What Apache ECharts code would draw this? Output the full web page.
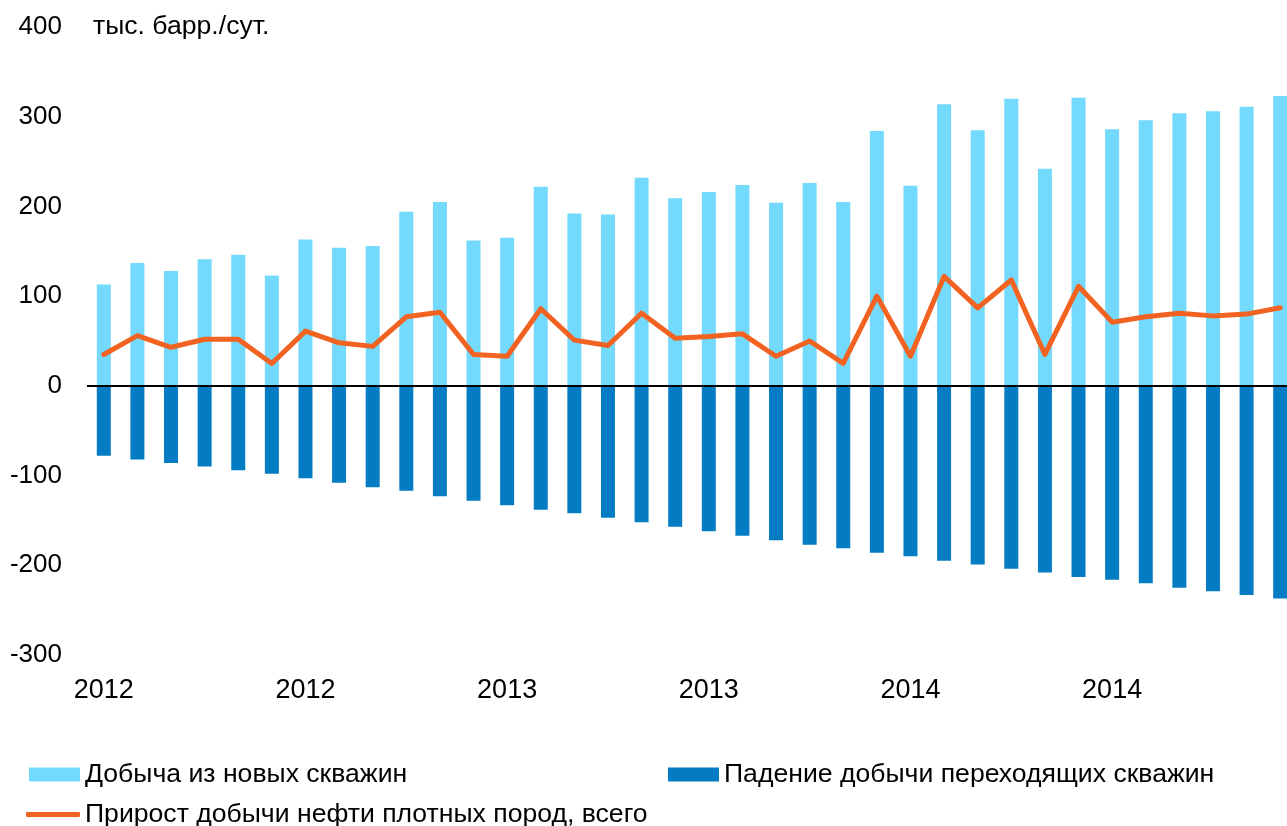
<!DOCTYPE html>
<html style="height: 100%; overflow: hidden">

<head>
    <meta charset="utf-8">
    <title>Tight oil production</title>
</head>

<body style="height: 100%; margin: 0; background: #fff; overflow: hidden">
    <!-- a bit wider than the window, so the last bar is cut at the right edge -->
    <div id="container" style="width: 1297px; height: 826px"></div>
    <script src="https://cdn.jsdelivr.net/npm/echarts@6/dist/echarts.min.js"></script>
    <script type="text/javascript">
        // months, 2012-2014
        var months = [
            '2012-01', '2012-02', '2012-03', '2012-04', '2012-05', '2012-06',
            '2012-07', '2012-08', '2012-09', '2012-10', '2012-11', '2012-12',
            '2013-01', '2013-02', '2013-03', '2013-04', '2013-05', '2013-06',
            '2013-07', '2013-08', '2013-09', '2013-10', '2013-11', '2013-12',
            '2014-01', '2014-02', '2014-03', '2014-04', '2014-05', '2014-06',
            '2014-07', '2014-08', '2014-09', '2014-10', '2014-11', '2014-12'
        ];
        var newWells = [113, 137, 128, 141, 146, 123, 163, 154, 156, 194, 205, 162,
            165, 222, 192, 191, 232, 209, 216, 224, 204, 226, 205, 284,
            223, 314, 285, 320, 242, 321, 286, 296, 304, 306, 311, 323];
        var decline = [-78, -82, -86, -90, -94, -98, -103, -108, -113, -117, -123, -128,
            -133, -138, -142, -147, -152, -157, -162, -167, -172, -177, -181, -186,
            -190, -195, -199, -204, -208, -213, -216, -220, -225, -229, -233, -237];
        var total = [35, 56, 43, 52, 52, 25, 61, 48, 44, 77, 82, 35,
            33, 86, 51, 45, 81, 53, 55, 58, 33, 50, 25, 100,
            33, 122, 87, 118, 35, 111, 71, 77, 81, 78, 80, 87];

        var names = ['Добыча из новых скважин', 'Падение добычи переходящих скважин',
            'Прирост добычи нефти плотных пород, всего'];

        var font = 'Liberation Sans, Arial, sans-serif';
        var txt = { fontFamily: font, fontSize: 26.6, color: '#000' };

        var myChart = echarts.init(document.getElementById('container'));

        var option = {
            animation: false,
            textStyle: { fontFamily: font },
            title: {
                text: 'тыс. барр./сут.',
                left: 93, top: 13, padding: 0,
                textStyle: { fontFamily: font, fontSize: 26.6, fontWeight: 'normal', color: '#000' }
            },
            legend: [{
                data: [names[0]], left: 29, top: 761, padding: 0,
                itemWidth: 51, itemHeight: 14, icon: 'rect',
                textStyle: txt
            }, {
                data: [names[1]], left: 668, top: 761, padding: 0,
                itemWidth: 51, itemHeight: 14, icon: 'rect',
                textStyle: txt
            }, {
                data: [names[2]], left: 26, top: 801, padding: 0,
                itemWidth: 54, itemHeight: 5, icon: 'roundRect',
                textStyle: txt
            }],
            grid: { left: 87, right: 0, top: 27, bottom: 171, containLabel: false },
            xAxis: {
                type: 'category',
                data: months,
                axisLine: { show: false, onZero: false },
                axisTick: { show: false },
                axisLabel: {
                    interval: 5, margin: 22,
                    fontFamily: font, fontSize: 27, color: '#000',
                    formatter: function (v) { return v.slice(0, 4); }
                }
            },
            yAxis: {
                type: 'value',
                min: -300, max: 400, interval: 100,
                axisLine: { show: false },
                axisTick: { show: false },
                splitLine: { show: false },
                axisLabel: { margin: 25, fontFamily: font, fontSize: 26, color: '#000' }
            },
            series: [{
                name: names[0],
                type: 'bar',
                data: newWells,
                barWidth: 14,
                barGap: '-100%',
                itemStyle: { color: '#73d9fd' },
                markLine: {
                    silent: true,
                    symbol: 'none',
                    label: { show: false },
                    lineStyle: { color: '#000', width: 2, type: 'solid' },
                    data: [{ yAxis: 0 }]
                }
            }, {
                name: names[1],
                type: 'bar',
                data: decline,
                barWidth: 14,
                barGap: '-100%',
                itemStyle: { color: '#037cc4' }
            }, {
                name: names[2],
                type: 'line',
                data: total,
                symbol: 'none',
                z: 5,
                itemStyle: { color: '#f26322' },
                lineStyle: { color: '#f26322', width: 5, cap: 'round', join: 'round' }
            }]
        };
        myChart.setOption(option);
    </script>
</body>

</html>
